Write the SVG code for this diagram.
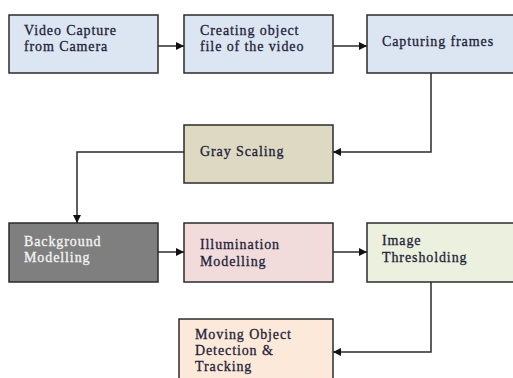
<svg xmlns="http://www.w3.org/2000/svg" width="513" height="378" viewBox="0 0 513 378">
<style>
.box{stroke:#2b2b2b;stroke-width:1.5}
.t{font-family:"Liberation Serif","Times New Roman",serif;font-size:14px;letter-spacing:0.9px;fill:#1f1f3a;stroke:#1f1f3a;stroke-width:0.3}
.w{fill:#f4f4f4;stroke:#f4f4f4}
.c{fill:none;stroke:#2b2b2b;stroke-width:1.5}
</style>
<defs>
<marker id="ah" viewBox="0 0 10 10" refX="10" refY="5" markerWidth="8" markerHeight="8" markerUnits="userSpaceOnUse" orient="auto">
<path d="M0,0 L10,5 L0,10 z" fill="#111"/>
</marker>
</defs>
<rect width="513" height="378" fill="#fff"/>
<g id="n1"><rect class="box" x="9" y="15" width="149" height="58" fill="#dce6f2"/>
<text class="t" x="24" y="35">Video Capture</text><text class="t" x="24" y="51">from Camera</text></g>
<g id="n2"><rect class="box" x="184" y="15" width="149" height="58" fill="#dce6f2"/>
<text class="t" x="200" y="35">Creating object</text><text class="t" x="200" y="51">file of the video</text></g>
<g id="n3"><rect class="box" x="367" y="15" width="150" height="58" fill="#dce6f2"/>
<text class="t" x="382" y="46">Capturing frames</text></g>
<g id="n4"><rect class="box" x="184" y="125" width="149" height="58" fill="#ddd9c3"/>
<text class="t" x="200" y="156">Gray Scaling</text></g>
<g id="n5"><rect class="box" x="9" y="223" width="149" height="59" fill="#7f7f7f"/>
<text class="t w" x="24" y="246">Background</text><text class="t w" x="24" y="262">Modelling</text></g>
<g id="n6"><rect class="box" x="184" y="223" width="149" height="59" fill="#f2dcdb"/>
<text class="t" x="200" y="249">Illumination</text><text class="t" x="200" y="266">Modelling</text></g>
<g id="n7"><rect class="box" x="367" y="223" width="150" height="59" fill="#ebf1de"/>
<text class="t" x="382" y="245">Image</text><text class="t" x="382" y="262">Thresholding</text></g>
<g id="n8"><rect class="box" x="179" y="319" width="154" height="65" fill="#fde9d9"/>
<text class="t" x="195" y="339">Moving Object</text><text class="t" x="195" y="355">Detection &amp;</text><text class="t" x="195" y="371">Tracking</text></g>
<g id="connectors">
<path class="c" d="M158,46 H184" marker-end="url(#ah)"/>
<path class="c" d="M333,46 H367" marker-end="url(#ah)"/>
<path class="c" d="M431,73 V152 H333" marker-end="url(#ah)"/>
<path class="c" d="M184,152 H77 V223" marker-end="url(#ah)"/>
<path class="c" d="M158,252 H184" marker-end="url(#ah)"/>
<path class="c" d="M333,252 H367" marker-end="url(#ah)"/>
<path class="c" d="M431,282 V352 H333" marker-end="url(#ah)"/>
</g>
</svg>
